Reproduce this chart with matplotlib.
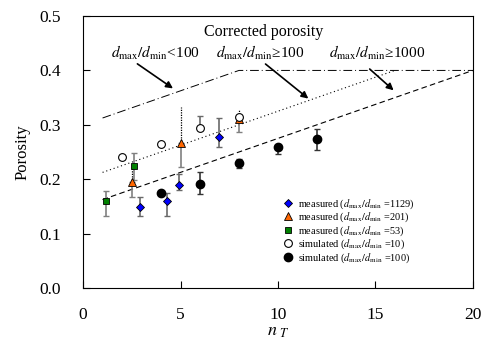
import numpy as np
import matplotlib
matplotlib.use('Agg')
import matplotlib.pyplot as plt

plt.rcParams['font.family'] = ['Liberation Serif', 'DejaVu Serif']
plt.rcParams['mathtext.fontset'] = 'stix'

# corrected porosity lines: intercept + slope*nT, capped at 0.4
a_menor100 = 0.3
a_maior100 = 0.2
a_maior1000 = 0.15
inclinacao = 0.0125
teto = 0.4

# measured, dmax/dmin = 1129 (diamonds)
x_1129 = [2.9, 4.3, 4.9, 7.0]
y_1129 = [0.148, 0.159, 0.190, 0.277]
lo_1129 = [0.015, 0.027, 0.010, 0.018]
hi_1129 = [0.020, 0.016, 0.019, 0.036]

# measured, dmax/dmin = 201 (triangles), upper bar dotted
x_201 = [2.5, 5.0, 8.0]
y_201 = [0.194, 0.266, 0.310]
lo_201 = [0.026, 0.043, 0.024]
hi_201 = [0.030, 0.067, 0.017]

# measured, dmax/dmin = 53 (squares)
x_53 = [1.2, 2.6]
y_53 = [0.159, 0.224]
lo_53 = [0.026, 0.025]
hi_53 = [0.020, 0.025]

# simulated, dmax/dmin = 10 (open circles)
x_s10 = [2.0, 4.0, 6.0, 8.0]
y_s10 = [0.241, 0.265, 0.294, 0.315]
hi_s10 = [0.0, 0.0, 0.022, 0.0]

# simulated, dmax/dmin = 100 (filled circles)
x_s100 = [4.0, 6.0, 8.0, 10.0, 12.0]
y_s100 = [0.175, 0.192, 0.229, 0.259, 0.274]
lo_s100 = [0.0, 0.020, 0.009, 0.012, 0.020]
hi_s100 = [0.0, 0.022, 0.009, 0.0, 0.018]

fig = plt.figure(figsize=(4.83, 3.49), dpi=100)
ax = fig.add_axes([0.172, 0.175, 0.807, 0.779])

# lines
xx = np.linspace(1, 20, 400)
ax.plot(xx, np.minimum(a_menor100 + inclinacao * xx, teto), color='black', lw=0.7,
        linestyle=(0, (9, 3, 1, 3)))
x2 = xx[xx <= 16]
ax.plot(x2, np.minimum(a_maior100 + inclinacao * x2, teto), color='black', lw=0.8,
        linestyle=(0, (1, 2.5)))
ax.plot(xx, np.minimum(a_maior1000 + inclinacao * xx, teto), color='black', lw=0.8,
        linestyle=(0, (5, 3)))

# error bars
ax.errorbar(x_201, y_201, yerr=[lo_201, [0] * 3], fmt='none', ecolor='gray', elinewidth=1.2,
            capsize=2, capthick=1)
ax.vlines(x_201, y_201, np.array(y_201) + np.array(hi_201), color='black', lw=0.9,
          linestyle=(0, (1, 1)))
ax.errorbar(x_1129, y_1129, yerr=[lo_1129, hi_1129], fmt='none', ecolor='dimgray',
            elinewidth=1.2, capsize=2, capthick=1)
ax.errorbar(x_53, y_53, yerr=[lo_53, hi_53], fmt='none', ecolor='gray', elinewidth=1.2,
            capsize=2, capthick=1)
ax.errorbar(x_s10, y_s10, yerr=[[0] * 4, hi_s10], fmt='none', ecolor='dimgray', elinewidth=1.2,
            capsize=2, capthick=1)
ax.errorbar(x_s100, y_s100, yerr=[lo_s100, hi_s100], fmt='none', ecolor='#333333',
            elinewidth=1.2, capsize=2, capthick=1)

# markers
ax.plot(x_1129, y_1129, 'D', color='#0000ff', mec='black', mew=0.6, ms=4.3,
        label=r'measured ($d_{\rm max}/d_{\rm min}$ =1129)')
ax.plot(x_201, y_201, '^', color='#ff6600', mec='black', mew=0.6, ms=6,
        label=r'measured ($d_{\rm max}/d_{\rm min}$ =201)')
ax.plot(x_53, y_53, 's', color='#008000', mec='black', mew=0.6, ms=4.6,
        label=r'measured ($d_{\rm max}/d_{\rm min}$ =53)')
ax.plot(x_s10, y_s10, 'o', color='white', mec='black', mew=0.8, ms=5.6,
        label=r'simulated ($d_{\rm max}/d_{\rm min}$ =10)')
ax.plot(x_s100, y_s100, 'o', color='black', mec='black', ms=6,
        label=r'simulated ($d_{\rm max}/d_{\rm min}$ =100)')

# annotations
ax.text(9.25, 0.47, 'Corrected porosity', ha='center', va='center', fontsize=11.5)
ax.text(3.7, 0.432, r'$d_{\rm max}/d_{\rm min}$<100', ha='center', va='center', fontsize=11)
ax.text(9.1, 0.432, r'$d_{\rm max}/d_{\rm min}$≥100', ha='center', va='center', fontsize=11)
ax.text(15.1, 0.432, r'$d_{\rm max}/d_{\rm min}$≥1000', ha='center', va='center', fontsize=11)
seta = dict(arrowstyle='-|>', color='black', lw=1.2, mutation_scale=10)
ax.annotate('', xy=(4.73, 0.364), xytext=(2.67, 0.415), arrowprops=seta)
ax.annotate('', xy=(11.67, 0.345), xytext=(9.25, 0.415), arrowprops=seta)
ax.annotate('', xy=(16.04, 0.36), xytext=(14.6, 0.406), arrowprops=seta)

leg = ax.legend(loc='lower right', bbox_to_anchor=(0.86, 0.07), frameon=False, fontsize=7.4,
                handletextpad=0.5, labelspacing=0.0, handlelength=0.8, numpoints=1,
                borderaxespad=0)

ax.set_xlim(0, 20)
ax.set_ylim(0, 0.5)
ax.set_xticks([0, 5, 10, 15, 20])
ax.set_yticks(np.arange(0, 0.51, 0.1))
ax.set_yticklabels(['0.0', '0.1', '0.2', '0.3', '0.4', '0.5'])
ax.tick_params(direction='in', labelsize=12.5, length=5)
ax.tick_params(axis='y', pad=16)
ax.tick_params(axis='x', pad=14)
ax.set_xlabel(r'$n_{\ T}$', fontsize=13, labelpad=0)
ax.set_ylabel('Porosity', fontsize=12, labelpad=6)

fig.savefig('out.png', dpi=100)
